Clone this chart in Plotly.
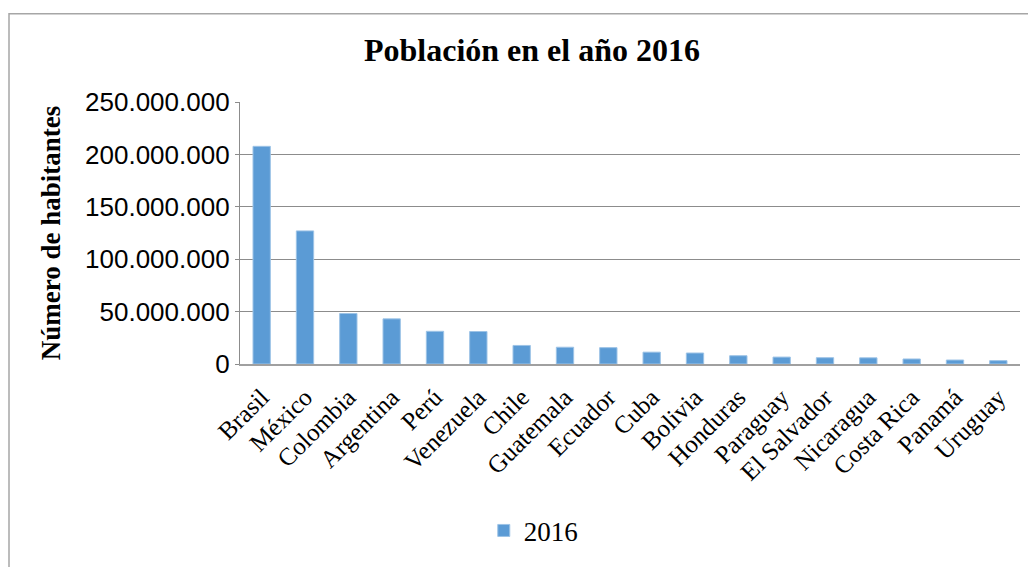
import plotly.graph_objects as go

paises = ['Brasil', 'México', 'Colombia', 'Argentina', 'Perú', 'Venezuela', 'Chile',
          'Guatemala', 'Ecuador', 'Cuba', 'Bolivia', 'Honduras', 'Paraguay',
          'El Salvador', 'Nicaragua', 'Costa Rica', 'Panamá', 'Uruguay']
poblacion_2016 = [207700000, 127000000, 48200000, 43100000, 31200000, 31000000, 17700000,
                  16000000, 15600000, 11300000, 10500000, 7900000, 6600000,
                  6000000, 5900000, 4800000, 3800000, 3200000]
ticks_y = [0, 50000000, 100000000, 150000000, 200000000, 250000000]

fig = go.Figure()
fig.add_trace(go.Bar(
    x=paises, y=poblacion_2016, name='2016',
    marker=dict(color='#5B9BD5', line=dict(color='#9DC3E6', width=1)),
))

serif = 'Liberation Serif, Times New Roman, serif'

# la página html deja 8px de margen, por eso la figura es 8px más pequeña
fig.update_layout(
    width=1028, height=559,
    margin=dict(l=232, r=16, t=94, b=198),
    paper_bgcolor='white', plot_bgcolor='white',
    separators=',.',
    bargap=0.6,
    title=dict(text='<b>Población en el año 2016</b>', x=0.5097, xanchor='center',
               y=0.925, yanchor='middle',
               font=dict(family=serif, size=32, color='black')),
    showlegend=True,
    legend=dict(orientation='h', x=0.376, xanchor='center', y=-0.637, yanchor='middle',
                font=dict(family=serif, size=27, color='black')),
    font=dict(family=serif, color='black'),
)

fig.update_xaxes(
    tickangle=-45, tickfont=dict(family=serif, size=25, color='black'),
    showline=True, linecolor='#A0A0A0', linewidth=1.5,
    ticks='outside', ticklen=7, tickcolor='rgba(0,0,0,0)',
)
fig.update_yaxes(
    range=[0, 250000000], tickvals=ticks_y, tickformat=',d',
    tickfont=dict(family='Liberation Sans, Arial, sans-serif', size=26, color='black'),
    showgrid=True, gridcolor='#8C8C8C', gridwidth=1.3,
    showline=True, linecolor='#8C8C8C', linewidth=1.3,
    ticks='outside', ticklen=4, tickcolor='#8C8C8C',
    zeroline=False,
    title=dict(text='<b>Número de habitantes</b>', standoff=16,
               font=dict(family=serif, size=27, color='black')),
)

# marco exterior del gráfico
fig.add_shape(type='rect', xref='paper', yref='paper',
              x0=(1 - 232) / 780, x1=(1045 - 232) / 780,
              y0=(361 - 580) / 267, y1=1 + 90 / 267,
              line=dict(color='#A6A6A6', width=1.5), layer='below')

fig.write_html('out.html')
